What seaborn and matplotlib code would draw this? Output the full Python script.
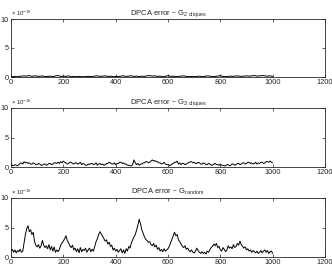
import matplotlib
matplotlib.use('Agg')
import matplotlib.pyplot as plt
import numpy as np
import pandas as pd
import seaborn as sns

sns.set_style('ticks')
plt.rcParams['font.family'] = ['Liberation Sans', 'DejaVu Sans']
plt.rcParams['mathtext.default'] = 'regular'
plt.rcParams['font.size'] = 5

# x positions (iterations), step 5 / step 10
x5 = list(range(0, 1001, 5))
x10 = list(range(0, 1001, 10))

# DPCA error, G_2 cliques (x 1e-16), step 10
err_2cliques = [
    0.05, 0.10, 0.05, 0.10, 0.15, 0.20, 0.15, 0.25, 0.10, 0.20,
    0.15, 0.10, 0.20, 0.05, 0.10, 0.15, 0.05, 0.20, 0.25, 0.10,
    0.15, 0.10, 0.20, 0.05, 0.10, 0.05, 0.10, 0.05, 0.05, 0.10,
    0.10, 0.05, 0.15, 0.20, 0.10, 0.15, 0.20, 0.10, 0.15, 0.05,
    0.10, 0.05, 0.15, 0.20, 0.10, 0.15, 0.20, 0.10, 0.15, 0.05,
    0.15, 0.10, 0.20, 0.25, 0.15, 0.20, 0.10, 0.15, 0.05, 0.10,
    0.25, 0.10, 0.15, 0.05, 0.10, 0.15, 0.20, 0.10, 0.05, 0.10,
    0.05, 0.10, 0.15, 0.05, 0.10, 0.20, 0.15, 0.05, 0.10, 0.15,
    0.25, 0.10, 0.05, 0.10, 0.15, 0.10, 0.20, 0.15, 0.10, 0.15,
    0.20, 0.15, 0.20, 0.25, 0.15, 0.20, 0.25, 0.20, 0.15, 0.20,
    0.10,
]

# DPCA error, G_3 cliques (x 1e-16), step 5
err_3cliques = [
    0.6, 0.3, 0.2, 0.4, 0.3, 0.2, 0.4, 0.6, 0.7, 0.5, 0.9, 0.7, 0.8, 0.6, 0.7, 0.5, 0.5, 0.7, 0.6, 0.4,
    0.4, 0.6, 0.5, 0.3, 0.3, 0.5, 0.5, 0.3, 0.4, 0.6, 0.6, 0.4, 0.5, 0.7, 0.7, 0.6, 0.8, 0.6, 0.9, 0.7,
    1.0, 0.8, 0.7, 0.5, 0.6, 0.8, 0.8, 0.6, 0.5, 0.7, 0.7, 0.5, 0.6, 0.8, 0.4, 0.6, 0.5, 0.3, 0.3, 0.5,
    0.4, 0.6, 0.6, 0.4, 0.5, 0.7, 0.3, 0.5, 0.6, 0.4, 0.5, 0.3, 0.4, 0.6, 0.6, 0.8, 0.7, 0.5, 0.5, 0.7,
    0.4, 0.6, 0.6, 0.8, 0.8, 0.6, 0.7, 0.5, 0.5, 0.3, 0.3, 0.2, 0.2, 0.4, 1.2, 0.7, 0.4, 0.6, 0.3, 0.5,
    0.5, 0.7, 0.7, 0.9, 0.9, 0.7, 0.8, 1.0, 1.2, 1.0, 1.1, 0.9, 0.9, 0.7, 0.7, 0.5, 0.6, 0.8, 0.5, 0.4,
    0.4, 0.3, 0.3, 0.5, 0.6, 0.8, 0.8, 1.0, 0.5, 0.7, 0.4, 0.6, 0.6, 0.4, 0.5, 0.7, 0.7, 0.9, 0.9, 0.7,
    0.8, 0.6, 0.6, 0.8, 0.7, 0.5, 0.5, 0.7, 0.6, 0.4, 0.4, 0.6, 0.5, 0.3, 0.3, 0.5, 0.6, 0.4, 0.4, 0.3,
    0.5, 0.3, 0.3, 0.2, 0.2, 0.4, 0.4, 0.2, 0.3, 0.5, 0.5, 0.3, 0.4, 0.6, 0.6, 0.4, 0.5, 0.7, 0.7, 0.5,
    0.6, 0.8, 0.8, 0.6, 0.7, 0.5, 0.6, 0.8, 0.5, 0.7, 0.6, 0.8, 0.8, 0.6, 0.7, 0.9, 0.9, 0.8, 1.0, 0.8,
    0.7,
]

# DPCA error, G_random (x 1e-16), step 5
err_random = [
    1.0, 1.3, 0.8, 1.2, 0.7, 1.1, 0.9, 1.3, 0.8, 1.0, 2.4, 3.8, 4.8, 5.3, 4.3, 4.6, 3.8, 4.2, 2.6, 2.0,
    1.7, 2.1, 1.5, 1.9, 2.8, 2.0, 1.6, 1.9, 1.4, 2.1, 1.2, 1.8, 1.0, 1.7, 0.8, 1.2, 0.9, 1.3, 2.0, 2.4,
    2.7, 3.1, 3.6, 2.8, 2.4, 1.9, 1.6, 2.0, 1.2, 1.5, 0.9, 1.4, 0.7, 1.6, 0.9, 1.3, 1.1, 1.5, 0.8, 1.2,
    1.5, 0.9, 1.3, 1.0, 1.8, 2.6, 3.1, 3.8, 4.3, 3.9, 3.5, 3.1, 2.7, 2.9, 2.2, 2.5, 1.8, 2.0, 1.2, 1.5,
    1.0, 1.3, 0.8, 1.1, 1.4, 0.7, 1.2, 0.6, 1.4, 1.0, 1.8, 1.5, 2.4, 2.9, 3.4, 3.8, 4.6, 5.4, 6.4, 5.6,
    4.6, 4.0, 3.4, 3.0, 2.8, 2.5, 2.6, 2.1, 1.9, 2.3, 1.7, 2.0, 1.3, 1.6, 1.0, 1.3, 0.9, 1.4, 1.0, 1.2,
    1.4, 1.8, 2.4, 3.0, 3.6, 4.2, 3.6, 3.8, 2.9, 2.6, 2.2, 1.8, 1.6, 1.9, 1.3, 1.5, 1.1, 0.9, 1.2, 0.8,
    0.7, 1.0, 1.5, 1.1, 0.8, 0.6, 0.9, 0.6, 0.8, 0.5, 1.0, 0.8, 1.2, 1.6, 1.8, 2.2, 1.9, 2.3, 1.6, 1.8,
    1.2, 1.0, 1.6, 1.3, 0.9, 1.2, 1.9, 1.5, 1.7, 1.4, 2.1, 1.6, 1.8, 2.3, 2.0, 2.7, 2.1, 1.8, 1.5, 1.7,
    1.2, 1.4, 1.0, 1.2, 0.8, 1.1, 0.9, 0.7, 1.0, 0.6, 0.8, 1.1, 0.7, 1.0, 1.2, 0.8, 1.1, 0.6, 0.9, 1.0,
    0.6,
]

panels = [
    (x10, err_2cliques, 'DPCA error – G$_{2\\ cliques}$'),
    (x5, err_3cliques, 'DPCA error – G$_{3\\ cliques}$'),
    (x5, err_random, 'DPCA error – G$_{random}$'),
]

fig = plt.figure(figsize=(3.32, 2.67), dpi=100)
tops = [19, 108, 198]
bottoms = [77, 167, 257]
for (xs, ys, title), t, b in zip(panels, tops, bottoms):
    ax = fig.add_axes([11 / 332, 1 - b / 267, 314 / 332, (b - t) / 267])
    df = pd.DataFrame({'x': xs, 'y': ys})
    sns.lineplot(data=df, x='x', y='y', color='black', linewidth=0.7, ax=ax)
    ax.set_xlim(0, 1200)
    ax.set_ylim(0, 10)
    ax.set_xticks(range(0, 1201, 200))
    ax.set_yticks([0, 5, 10])
    ax.set_xlabel('')
    ax.set_ylabel('')
    ax.tick_params(direction='in', length=2, width=0.5, top=True, right=True,
                   labelsize=5.3, pad=1.5)
    for s in ax.spines.values():
        s.set_linewidth(0.6)
    ax.set_title(title, fontsize=5.5, pad=3)
    ax.text(0.0, 1.02, '× 10$^{-16}$', transform=ax.transAxes, fontsize=4.3,
            ha='left', va='bottom')

fig.savefig('out.png', dpi=100)
